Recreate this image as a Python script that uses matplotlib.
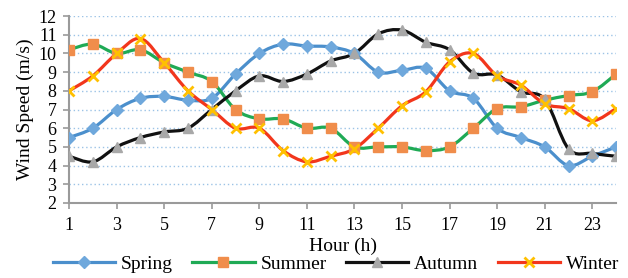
import matplotlib
matplotlib.use('Agg')
import matplotlib.pyplot as plt
import numpy as np
from matplotlib.path import Path
from matplotlib.patches import PathPatch
from matplotlib.lines import Line2D

plt.rcParams['font.family'] = ['Liberation Serif', 'DejaVu Serif']

hours = list(range(1, 25))
spring = [5.5, 6.0, 7.0, 7.6, 7.7, 7.5, 7.6, 8.9, 10.0, 10.5, 10.4, 10.35,
          10.0, 9.0, 9.1, 9.2, 8.0, 7.6, 6.0, 5.5, 5.0, 4.0, 4.5, 5.0]
summer = [10.2, 10.5, 10.0, 10.2, 9.5, 9.0, 8.5, 7.0, 6.5, 6.5, 6.0, 6.0,
          5.0, 5.0, 5.0, 4.8, 5.0, 6.0, 7.05, 7.15, 7.5, 7.75, 7.95, 8.9]
autumn = [4.5, 4.2, 5.0, 5.5, 5.8, 6.0, 7.0, 8.0, 8.8, 8.5, 8.9, 9.6,
          10.0, 11.05, 11.25, 10.6, 10.2, 8.95, 8.85, 7.95, 7.55, 4.9, 4.65, 4.5]
winter = [8.0, 8.8, 10.0, 10.8, 9.5, 8.0, 7.0, 6.0, 6.0, 4.8, 4.2, 4.5,
          4.9, 6.0, 7.2, 7.95, 9.55, 10.0, 8.8, 8.3, 7.3, 7.05, 6.4, 7.05]
season_names = ['Spring', 'Summer', 'Autumn', 'Winter']

# line colour, marker, marker colour, marker size
styles = [
    ('#4b8fcc', 'D', '#6fa8dc', 6),
    ('#1faa55', 's', '#f08d4b', 7.5),
    ('#111111', '^', '#a8a8a8', 7.5),
    ('#f2361c', 'x', '#ffc000', 7),
]


def smooth_path(x, y):
    '''Excel-like smoothed line as a bezier path through the points'''
    x = np.asarray(x, float)
    y = np.asarray(y, float)
    verts = [(x[0], y[0])]
    codes = [Path.MOVETO]
    n = len(x)
    for i in range(n - 1):
        i0 = max(i - 1, 0)
        i3 = min(i + 2, n - 1)
        c1 = (x[i] + (x[i + 1] - x[i0]) / 6, y[i] + (y[i + 1] - y[i0]) / 6)
        c2 = (x[i + 1] - (x[i3] - x[i]) / 6, y[i + 1] - (y[i3] - y[i]) / 6)
        verts += [c1, c2, (x[i + 1], y[i + 1])]
        codes += [Path.CURVE4] * 3
    return Path(verts, codes)


fig = plt.figure(figsize=(6.28, 2.78), dpi=100)
ax = fig.add_axes([0.110, 0.270, 0.871, 0.672])

handles = []
for vals, name, (lc, mk, mc, ms) in zip([spring, summer, autumn, winter], season_names, styles):
    ax.add_patch(PathPatch(smooth_path(hours, vals), facecolor='none',
                           edgecolor=lc, linewidth=2.3, zorder=3))
    if mk == 'x':
        ax.plot(hours, vals, linestyle='none', marker=mk, color=mc,
                markersize=ms, markeredgewidth=2.0, zorder=4)
    else:
        ax.plot(hours, vals, linestyle='none', marker=mk, color=mc,
                markersize=ms, markeredgecolor=mc, zorder=4)
    handles.append(Line2D([], [], color=lc, linewidth=2.3, marker=mk,
                          markerfacecolor=mc, markeredgecolor=mc,
                          markersize=ms, markeredgewidth=2.0 if mk == 'x' else 1.0))

ax.set_xlim(1, 24)
ax.set_ylim(2, 12)
ax.set_xticks(range(1, 24, 2))
ax.set_yticks(range(2, 13))
ax.tick_params(axis='both', labelsize=13, color='#9a9a9a', length=4, width=1.2)
ax.tick_params(axis='x', pad=6)
ax.tick_params(axis='y', pad=5)
for side in ['top', 'right']:
    ax.spines[side].set_visible(False)
for side in ['left', 'bottom']:
    ax.spines[side].set_color('#9a9a9a')
    ax.spines[side].set_linewidth(1.5)
for yv in range(3, 13):
    ax.axhline(yv, color='#9cc3e6', linestyle=(0, (1, 2)), linewidth=1.0, zorder=1)

ax.set_xlabel('Hour (h)', fontsize=14, labelpad=3)
ax.set_ylabel('Wind Speed (m/s)', fontsize=14, labelpad=3)

fig.legend(handles, season_names, loc='lower center', bbox_to_anchor=(0.535, -0.045),
           ncol=4, frameon=False, fontsize=14, handlelength=3.2, columnspacing=1.0,
           handletextpad=0.3)

fig.savefig('out.png', dpi=100)
